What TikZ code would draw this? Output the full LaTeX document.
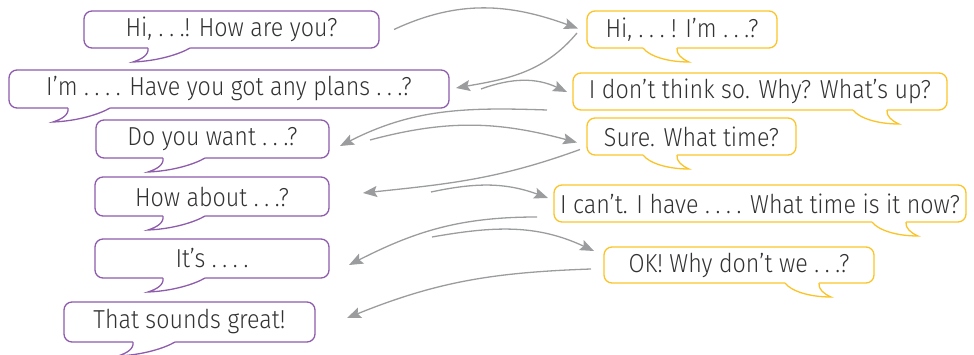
\documentclass[tikz,border=0pt]{standalone}
\usepackage{fontspec}
\setmainfont{Fira Sans Light}[FakeStretch=0.895]
\usetikzlibrary{arrows.meta, calc}

\definecolor{bubblepurple}{RGB}{142,92,172}
\definecolor{bubbleyellow}{RGB}{250,196,40}
\definecolor{arrowgray}{RGB}{155,156,158}
\definecolor{textgray}{RGB}{50,50,50}

% spaced dots as printed in the bubbles
\newcommand\gapdots{.\hspace{0.22em}.\hspace{0.22em}.}

\tikzset{
  bubble/.style={draw, rounded corners=8pt, line width=1.3pt, outer sep=0pt,
    inner sep=0pt, text=textgray, font=\fontsize{26}{26}\selectfont},
  leftbubble/.style={bubble, draw=bubblepurple},
  rightbubble/.style={bubble, draw=bubbleyellow},
  reply/.style={draw=arrowgray, line width=1.3pt,
    -{Stealth[length=14pt, width=11pt, inset=2.5pt]}},
  ltail/.pic={
    \fill[white] (0,1.5) -- (0,0) .. controls (1,-7) and (-6,-11) .. (-15,-14)
      .. controls (10,-13) and (32,-6) .. (42,0) -- (42,1.5) -- cycle;
    \draw (0,0) .. controls (1,-7) and (-6,-11) .. (-15,-14)
      .. controls (10,-13) and (32,-6) .. (42,0);
  },
  rtail/.pic={
    \begin{scope}[xscale=-1]
      \fill[white] (0,1.5) -- (0,0) .. controls (1,-6) and (-5,-11) .. (-12,-14)
        .. controls (10,-14) and (28,-8) .. (34,0) -- (34,1.5) -- cycle;
      \draw (0,0) .. controls (1,-6) and (-5,-11) .. (-12,-14)
        .. controls (10,-14) and (28,-8) .. (34,0);
    \end{scope}
  }
}

\begin{document}
\begin{tikzpicture}[x=1pt, y=1pt]

  \useasboundingbox (0,0) rectangle (974,-355);

  % Left speaker
  \node[leftbubble, minimum width=295pt, minimum height=37pt] (L1) at (231.5,-29.5) {Hi, \gapdots! How are you?};
  \node[leftbubble, minimum width=440pt, minimum height=38pt] (L2) at (229,-89) {I’m \gapdots\hspace{0.22em}. Have you got any plans \gapdots?};
  \node[leftbubble, minimum width=233pt, minimum height=38pt] (L3) at (212.5,-139) {Do you want \gapdots?};
  \node[leftbubble, minimum width=234pt, minimum height=39pt] (L4) at (212,-196.5) {How about \gapdots?};
  \node[leftbubble, minimum width=234pt, minimum height=39pt] (L5) at (212,-258.5) {It’s \gapdots\hspace{0.22em}.};
  \node[leftbubble, minimum width=251pt, minimum height=40pt] (L6) at (189.5,-322) {That sounds great!};

  % Right speaker
  \node[rightbubble, minimum width=190pt, minimum height=37pt] (R1) at (682,-29.5) {Hi, \gapdots\ ! I’m \gapdots?};
  \node[rightbubble, minimum width=374pt, minimum height=37pt] (R2) at (760,-91.5) {I don’t think so. Why? What’s up?};
  \node[rightbubble, minimum width=209pt, minimum height=37pt] (R3) at (691.5,-136.5) {Sure. What time?};
  \node[rightbubble, minimum width=412pt, minimum height=37pt] (R4) at (760,-203.5) {I can’t. I have \gapdots\hspace{0.22em}. What time is it now?};
  \node[rightbubble, minimum width=270pt, minimum height=36pt] (R5) at (739,-265) {OK! Why don’t we \gapdots?};

  % Tails
  \pic[draw=bubblepurple, line width=1.3pt] at ($(L1.south west)+(64,0)$) {ltail};
  \pic[draw=bubblepurple, line width=1.3pt] at ($(L2.south west)+(59,0)$) {ltail};
  \pic[draw=bubblepurple, line width=1.3pt] at ($(L3.south west)+(67,0)$) {ltail};
  \pic[draw=bubblepurple, line width=1.3pt] at ($(L4.south west)+(68,0)$) {ltail};
  \pic[draw=bubblepurple, line width=1.3pt] at ($(L5.south west)+(68,0)$) {ltail};
  \pic[draw=bubblepurple, line width=1.3pt] at ($(L6.south west)+(69,0)$) {ltail};
  \pic[draw=bubbleyellow, line width=1.3pt] at ($(R1.south east)+(-100,0)$) {rtail};
  \pic[draw=bubbleyellow, line width=1.3pt] at ($(R2.south east)+(-60,0)$) {rtail};
  \pic[draw=bubbleyellow, line width=1.3pt] at ($(R3.south east)+(-119,0)$) {rtail};
  \pic[draw=bubbleyellow, line width=1.3pt] at ($(R4.south east)+(-60,0)$) {rtail};
  \pic[draw=bubbleyellow, line width=1.3pt] at ($(R5.south east)+(-55,0)$) {rtail};

  % Turns of the dialogue
  \draw[reply] ($(L1.east)+(15,0)$) to[out=25, in=160] ($(R1.west)+(-9,1)$);
  \draw[reply] ($(R1.west)+(-10,-3.5)$) to[out=230, in=10] ($(L2.east)+(7,1)$);
  \draw[reply] ($(L2.east)+(32,0)$) to[out=20, in=155] ($(R2.west)+(-6,-0.5)$);
  \draw[reply] ($(R2.south west)+(-26,0)$) to[out=178, in=27] ($(L3.east)+(11,-7)$);
  \draw[reply] ($(L3.east)+(41,-1)$) to[out=15, in=165] ($(R3.west)+(-10,-6)$);
  \draw[reply] ($(R3.west)+(-7,-13)$) to[out=200, in=6] ($(L4.east)+(34,3.5)$);
  \draw[reply] ($(L4.east)+(102,4.5)$) to[out=12, in=160] ($(R4.west)+(-6,5.5)$);
  \draw[reply] ($(R4.west)+(-17,-13.5)$) to[out=180, in=27] ($(L5.east)+(20,-6.5)$);
  \draw[reply] ($(L5.east)+(103,21.5)$) to[out=10, in=155] ($(R5.west)+(-10,14)$);
  \draw[reply] ($(R5.west)+(-13,-4)$) to[out=182, in=22] ($(L6.east)+(32,4)$);

\end{tikzpicture}
\end{document}
